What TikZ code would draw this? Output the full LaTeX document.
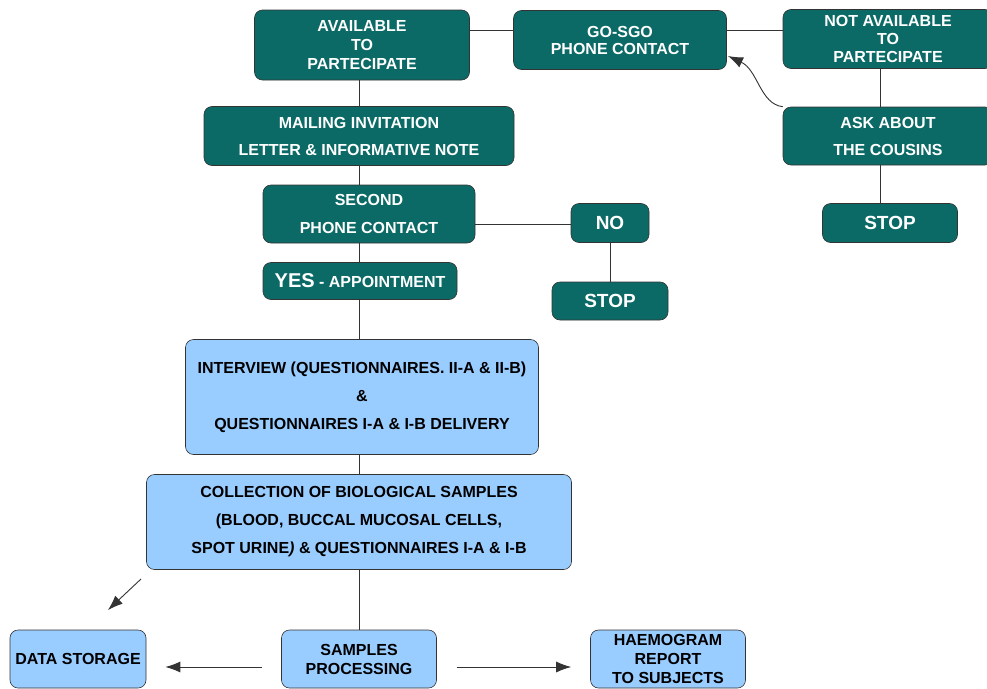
\documentclass[tikz,border=0pt]{standalone}
\usepackage{fontspec}
\setmainfont{Liberation Sans}
\usetikzlibrary{arrows.meta,calc}
\definecolor{teal1}{HTML}{0B6A66}
\definecolor{lblue}{HTML}{99CCFF}
\definecolor{lne}{HTML}{333333}
\begin{document}
\begin{tikzpicture}[x=1pt,y=-1pt,
  base/.style={rectangle, rounded corners=8pt, draw=lne, line width=0.6pt, inner sep=0pt, align=center, font=\fontsize{16}{19}\selectfont\bfseries},
  tbox/.style={base, fill=teal1, text=white},
  bbox/.style={base, fill=lblue, text=black},
  big/.style={font=\fontsize{19}{22}\selectfont\bfseries},
  conn/.style={draw=lne, line width=0.9pt},
  arr/.style={conn, -{Latex[length=15pt,width=11pt]}}]
\useasboundingbox (0,0) rectangle (987,688);
\fill[white] (0,0) rectangle (987,688);
% teal nodes
\node[tbox, minimum width=215pt, minimum height=70pt] (avail) at (362,45) {AVAILABLE\\TO\\PARTECIPATE};
\node[tbox, minimum width=213pt, minimum height=59pt] (gosgo) at (620,40) {GO-SGO\\[-2pt]PHONE CONTACT};
\node[tbox, minimum width=210pt, minimum height=59pt] (notav) at (888,39) {NOT AVAILABLE\\[-1pt]TO\\[-1pt]PARTECIPATE};
\node[tbox, minimum width=210pt, minimum height=58pt] (ask) at (888,136) {ASK ABOUT\\[8pt]THE COUSINS};
\node[tbox, big, minimum width=135pt, minimum height=39pt] (stopr) at (890,223) {STOP};
\node[tbox, minimum width=310pt, minimum height=59pt] (mail) at (359,136) {MAILING INVITATION\\[8pt]LETTER \& INFORMATIVE NOTE};
\node[tbox, minimum width=212pt, minimum height=58pt] (second) at (369,214) {SECOND\\[9pt]PHONE CONTACT};
\node[tbox, big, minimum width=78pt, minimum height=39pt] (no) at (610,223) {NO};
\node[tbox, minimum width=194pt, minimum height=37pt] (yes) at (360,281) {{\fontsize{20}{22}\selectfont YES}{\fontsize{16}{19}\selectfont\ - APPOINTMENT}};
\node[tbox, big, minimum width=116pt, minimum height=38pt] (stopm) at (610,301) {STOP};
% blue nodes
\node[bbox, minimum width=353pt, minimum height=115pt] (interv) at (362,397) {INTERVIEW (QUESTIONNAIRES. II-A \& II-B)\\[9pt]\&\\[9pt]QUESTIONNAIRES I-A \& I-B DELIVERY};
\node[bbox, minimum width=425pt, minimum height=95pt] (coll) at (359,522) {COLLECTION OF BIOLOGICAL SAMPLES\\[9pt](BLOOD, BUCCAL MUCOSAL CELLS,\\[9pt]SPOT URINE\textit{)} \& QUESTIONNAIRES I-A \& I-B};
\node[bbox, minimum width=136pt, minimum height=58pt] (data) at (78,659) {DATA STORAGE};
\node[bbox, minimum width=155pt, minimum height=58pt] (samp) at (359,659) {SAMPLES\\PROCESSING};
\node[bbox, minimum width=155pt, minimum height=58pt] (haem) at (668,659) {HAEMOGRAM\\REPORT\\TO SUBJECTS};
% connectors
\draw[conn] (avail.east |- 0,30) -- (gosgo.west |- 0,30);
\draw[conn] (gosgo.east |- 0,30) -- (notav.west |- 0,30);
\draw[conn] (notav.south -| 880,0) -- (ask.north -| 880,0);
\draw[conn] (ask.south -| 880,0) -- (stopr.north -| 880,0);
\draw[arr] (ask.north west) .. controls (760,104) and (758,70) .. (728,56);
\draw[conn] (avail.south -| 359,0) -- (mail.north -| 359,0);
\draw[conn] (mail.south -| 359,0) -- (second.north -| 359,0);
\draw[conn] (second.south -| 359,0) -- (yes.north -| 359,0);
\draw[conn] (yes.south -| 359,0) -- (interv.north -| 359,0);
\draw[conn] (interv.south -| 359,0) -- (coll.north -| 359,0);
\draw[conn] (coll.south -| 359,0) -- (samp.north -| 359,0);
\draw[conn] (second.east |- 0,224) -- (no.west |- 0,224);
\draw[conn] (no.south) -- (stopm.north);
\coordinate (d1) at (141,579);
\coordinate (d2) at (108,610);
\draw[arr] (d1) -- (d2);
\draw[arr] ($(samp.west)+(-19,8)$) -- ($(data.east)+(19,8)$);
\draw[arr] ($(samp.east)+(20,8)$) -- ($(haem.west)+(-19,8)$);
\end{tikzpicture}
\end{document}
